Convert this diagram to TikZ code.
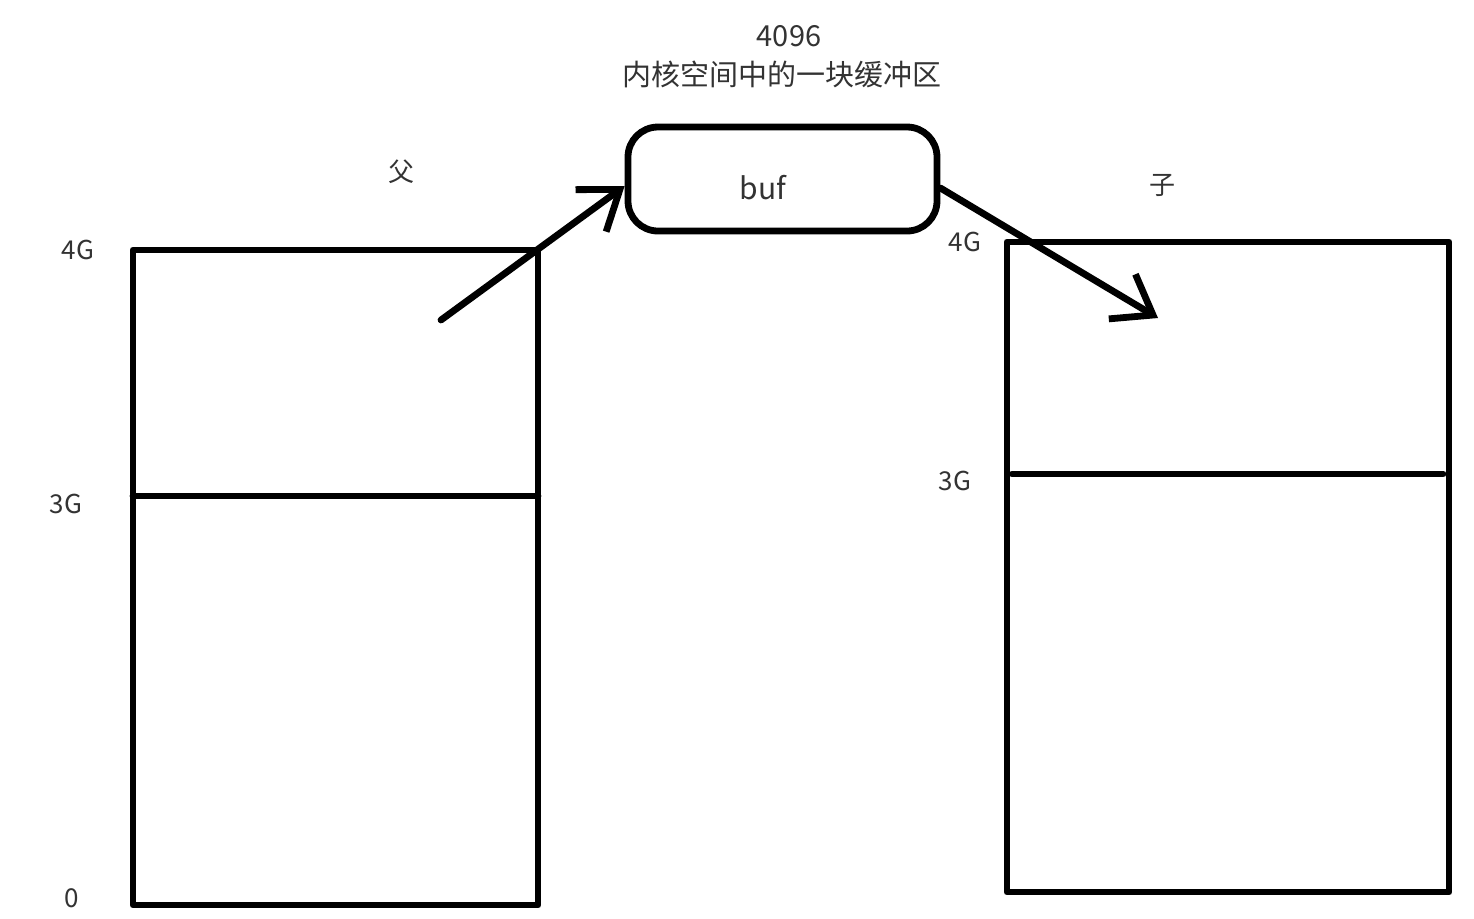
\documentclass[tikz,border=0pt]{standalone}
\usepackage{fontspec}
\setmainfont{Noto Sans CJK SC}
\usetikzlibrary{arrows.meta}
\tikzset{
  thick line/.style={line width=3.4pt, line cap=round, line join=round},
  lbl/.style={font=\fontsize{13pt}{15pt}\selectfont, text=black!80, inner sep=0pt},
  bigl/.style={font=\fontsize{14.5pt}{17pt}\selectfont, text=black!80, inner sep=0pt},
  barrow/.style={thick line, -{Straight Barb[length=18pt, width=26pt, line width=3.4pt]}}
}
\begin{document}
\begin{tikzpicture}[x=0.5pt, y=-0.5pt]
\useasboundingbox (0,0) rectangle (1474,918);
% left memory box
\draw[thick line, line cap=butt] (133,250) rectangle (538,905);
\draw[thick line] (133,496) -- (538,496);
% right memory box
\draw[thick line, line cap=butt] (1007,242) rectangle (1449,892);
\draw[thick line] (1012,474) -- (1443,474);
% buf
\node[draw, thick line, rounded corners=15pt, minimum width=154.5pt, minimum height=52pt, inner sep=0pt] (buf) at (782.5,179) {};
\node[font=\fontsize{15pt}{17pt}\selectfont, text=black!80, inner sep=0pt] (buftext) at (763,188) {buf};
% labels
\node[bigl] (n4096) at (789,36) {4096};
\node[bigl] (kern) at (782,74) {内核空间中的一块缓冲区};
\node[lbl] (fu) at (401,172) {父};
\node[lbl] (zi) at (1162,185) {子};
\node[lbl] (l4g) at (78,250) {4G};
\node[lbl] (l3g) at (66,504) {3G};
\node[lbl] (l0) at (72,898) {0};
\node[lbl] (r4g) at (965,242) {4G};
\node[lbl] (r3g) at (955,481) {3G};
% arrows
\coordinate (a1s) at (441,320);
\coordinate (a2e) at (1158,318);
\draw[barrow] (a1s) -- (buf.west |- 0,186);
\draw[barrow] (buf.east |- 0,188) -- (a2e);
\end{tikzpicture}
\end{document}
